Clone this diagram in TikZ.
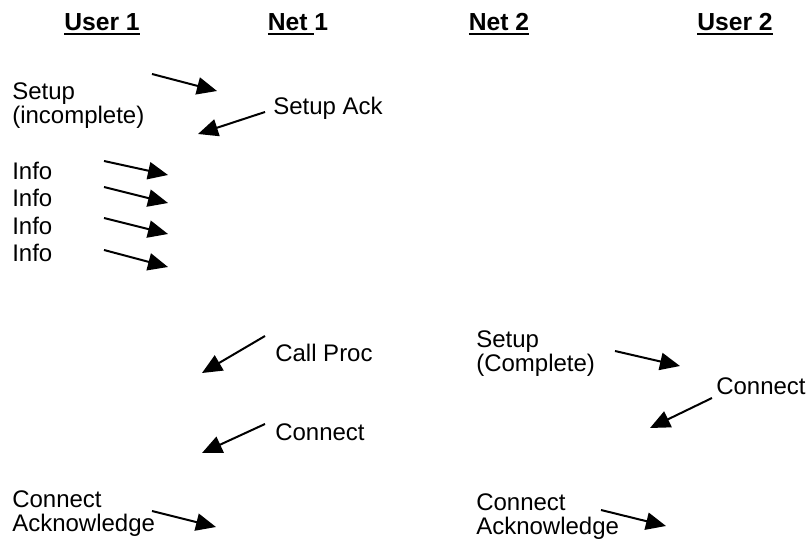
\documentclass[tikz,border=0pt]{standalone}
\usepackage{fontspec}
\setmainfont{Liberation Sans}
\usetikzlibrary{arrows.meta}
\newcommand{\hdul}[1]{\setbox0\hbox{#1}\rlap{\rule[-3pt]{\wd0}{1.6pt}}\box0\relax}
\tikzset{
  lbl/.style={anchor=west, inner sep=0pt, align=left, font=\fontsize{18}{18}\selectfont},
  hdr/.style={anchor=base, inner sep=0pt, font=\fontsize{18.5}{20}\selectfont\bfseries},
  msg/.style={line width=1.5pt, -{Triangle[length=15pt,width=13pt]}}
}
\begin{document}
\begin{tikzpicture}[x=0.75pt,y=-0.75pt]
\useasboundingbox (0,0) rectangle (807,545);
% headers
\node[hdr] (u1) at (102,31) {\hdul{User 1}};
\node[hdr] (n1) at (298,31) {\hdul{Net }1};
\node[hdr] (n2) at (499,31) {\hdul{Net 2}};
\node[hdr] (u2) at (735,31) {\hdul{User 2}};
% labels
\node[lbl] (lsetup) at (12,106) {Setup\\(incomplete)};
\node[lbl] (lsack) at (273,108) {Setup Ack};
\node[lbl] (li1) at (12,171) {Info};
\node[lbl] (li2) at (12,198) {Info};
\node[lbl] (li3) at (12,226) {Info};
\node[lbl] (li4) at (12,253) {Info};
\node[lbl] (lcp) at (275,353) {Call Proc};
\node[lbl] (lcon1) at (275,432) {Connect};
\node[lbl] (lsetc) at (476,354) {Setup\\(Complete)};
\node[lbl] (lcon2) at (716,386) {Connect};
\node[lbl] (lca1) at (12,514) {Connect\\Acknowledge};
\node[lbl] (lca2) at (476,517) {Connect\\Acknowledge};
% arrow end points
\coordinate (a1s) at (152,74);  \coordinate (a1e) at (217,91);
\coordinate (a2s) at (265,112); \coordinate (a2e) at (198,134);
\coordinate (i1s) at (104,161); \coordinate (i1e) at (168,175);
\coordinate (i2s) at (104,187); \coordinate (i2e) at (168,203);
\coordinate (i3s) at (104,218); \coordinate (i3e) at (168,234);
\coordinate (i4s) at (104,250); \coordinate (i4e) at (168,267);
\coordinate (cps) at (265,336); \coordinate (cpe) at (202,373);
\coordinate (c1s) at (265,424); \coordinate (c1e) at (202,453);
\coordinate (scs) at (615,351); \coordinate (sce) at (680,366);
\coordinate (c2s) at (712,398); \coordinate (c2e) at (650,428);
\coordinate (k1s) at (152,511); \coordinate (k1e) at (216,527);
\coordinate (k2s) at (601,510); \coordinate (k2e) at (666,526);
% arrows
\draw[msg] (a1s) -- (a1e);
\draw[msg] (a2s) -- (a2e);
\draw[msg] (i1s) -- (i1e);
\draw[msg] (i2s) -- (i2e);
\draw[msg] (i3s) -- (i3e);
\draw[msg] (i4s) -- (i4e);
\draw[msg] (cps) -- (cpe);
\draw[msg] (c1s) -- (c1e);
\draw[msg] (scs) -- (sce);
\draw[msg] (c2s) -- (c2e);
\draw[msg] (k1s) -- (k1e);
\draw[msg] (k2s) -- (k2e);
\end{tikzpicture}
\end{document}
